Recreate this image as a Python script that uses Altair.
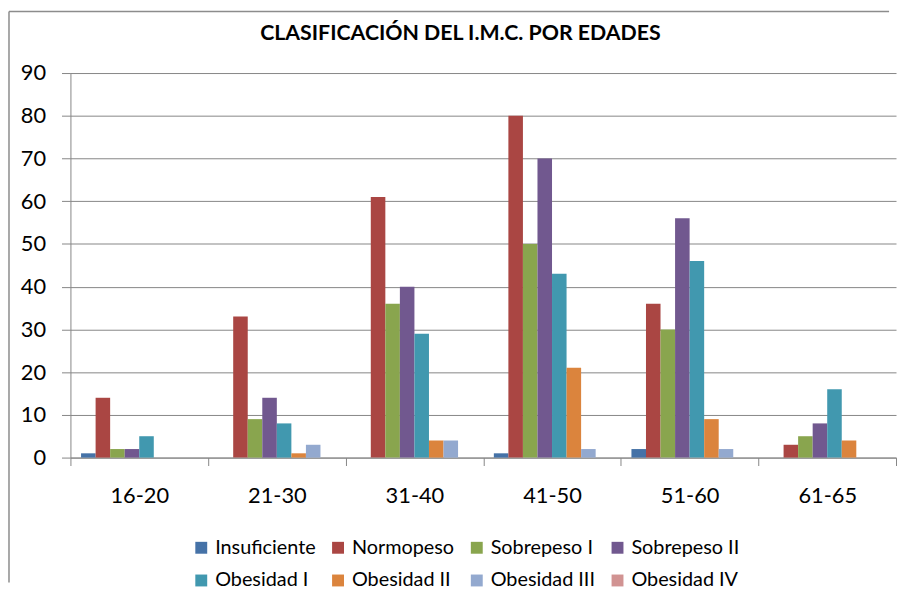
import altair as alt
import pandas as pd

ages = ["16-20", "21-30", "31-40", "41-50", "51-60", "61-65"]
series = ["Insuficiente", "Normopeso", "Sobrepeso I", "Sobrepeso II",
          "Obesidad I", "Obesidad II", "Obesidad III", "Obesidad IV"]
insuficiente = [1, 0, 0, 1, 2, 0]
normopeso = [14, 33, 61, 80, 36, 3]
sobrepeso1 = [2, 9, 36, 50, 30, 5]
sobrepeso2 = [2, 14, 40, 70, 56, 8]
obesidad1 = [5, 8, 29, 43, 46, 16]
obesidad2 = [0, 1, 4, 21, 9, 4]
obesidad3 = [0, 3, 4, 2, 2, 0]
obesidad4 = [0, 0, 0, 0, 0, 0]
colors = ["#4572A7", "#AA4643", "#89A54E", "#71588F",
          "#4198AF", "#DB843D", "#93A9CF", "#D19392"]

values = [insuficiente, normopeso, sobrepeso1, sobrepeso2,
          obesidad1, obesidad2, obesidad3, obesidad4]
rows = []
for s, vals in zip(series, values):
    for a, v in zip(ages, vals):
        rows.append({"edad": a, "serie": s, "valor": v})
df = pd.DataFrame(rows)

FONT = "Lato"

bars = alt.Chart(df).mark_bar().encode(
    x=alt.X("edad:N", sort=ages, title=None,
            scale=alt.Scale(paddingInner=0, paddingOuter=0),
            axis=alt.Axis(labelAngle=0, labelFontSize=22, labelFont=FONT,
                          labelColor="#000000", tickBand="extent",
                          tickSize=8, tickColor="#868686", domainColor="#868686",
                          labelPadding=20, grid=False)),
    xOffset=alt.XOffset("serie:N", sort=series,
                        scale=alt.Scale(paddingInner=0, paddingOuter=0.73)),
    y=alt.Y("valor:Q", title=None,
            scale=alt.Scale(domain=[0, 90], nice=False),
            axis=alt.Axis(values=list(range(0, 100, 10)), labelFontSize=22,
                          labelFont=FONT, labelColor="#000000",
                          tickSize=9, tickColor="#868686", domainColor="#868686",
                          gridColor="#868686", labelPadding=16)),
    color=alt.Color("serie:N", sort=series,
                    scale=alt.Scale(domain=series, range=colors),
                    legend=alt.Legend(title=None, orient="none", legendX=122,
                                      legendY=469, columns=4, direction="horizontal",
                                      symbolType="square", symbolSize=144,
                                      symbolStrokeWidth=0, labelFontSize=20,
                                      labelFont=FONT, labelColor="#000000",
                                      rowPadding=13, columnPadding=12,
                                      labelLimit=220)),
)

frame_df = pd.DataFrame({"f": [0]})
frame_top = alt.Chart(frame_df).mark_rule(color="#8c8c8c", strokeWidth=1.5).encode(
    x=alt.value(-62), x2=alt.value(826), y=alt.value(-62),
)
frame_left = alt.Chart(frame_df).mark_rule(color="#8c8c8c", strokeWidth=1.5).encode(
    x=alt.value(-62), y=alt.value(-62), y2=alt.value(514),
)

chart = alt.layer(frame_top, frame_left, bars).properties(
    width=833, height=388,
    padding={"left": 0, "top": 0, "right": 0, "bottom": 0},
    title=alt.TitleParams("CLASIFICACIÓN DEL I.M.C. POR EDADES", fontSize=21.5,
                          font=FONT, fontWeight="bold", color="#000000",
                          anchor="middle", offset=-34, dx=-23),
).configure_view(stroke=None)

chart.save("out.html", embed_options={"renderer": "svg", "actions": False})
